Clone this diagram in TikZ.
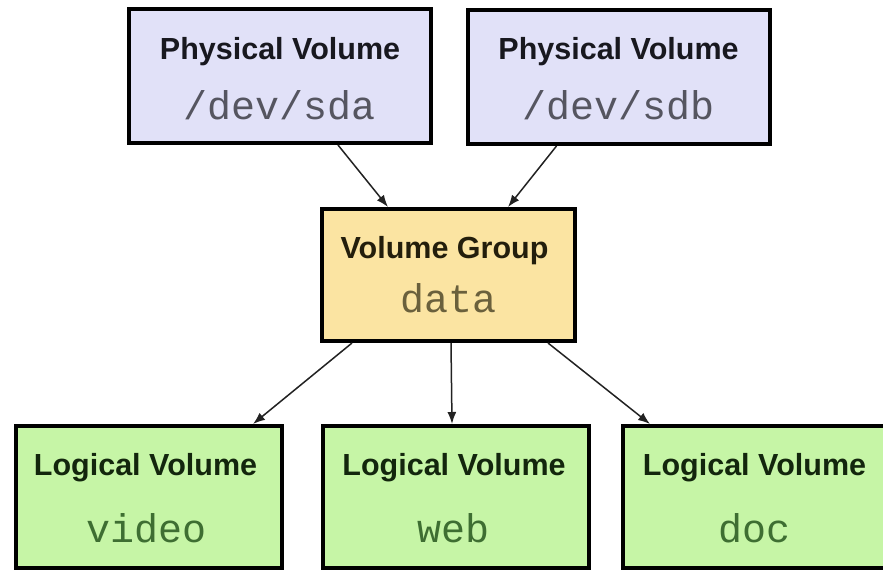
\documentclass[tikz,border=0pt]{standalone}
\usepackage{fontspec}
\setmainfont{Liberation Sans}
\newfontfamily\monofam{Liberation Mono}
\usetikzlibrary{arrows.meta}

\definecolor{pvfill}{HTML}{E1E1F8}
\definecolor{vgfill}{HTML}{FBE4A2}
\definecolor{lvfill}{HTML}{C6F5A6}
\definecolor{pvtext}{HTML}{555560}
\definecolor{vgtext}{HTML}{6A603C}
\definecolor{lvtext}{HTML}{3E6E32}
\definecolor{pvhead}{HTML}{18181F}
\definecolor{vghead}{HTML}{231E0C}
\definecolor{lvhead}{HTML}{13260D}
\definecolor{edgecol}{HTML}{222222}

\tikzset{
  box/.style={draw=black, line width=4pt, rectangle, inner sep=0pt},
  pvbox/.style={box, fill=pvfill, minimum width=302pt, minimum height=134pt},
  vgbox/.style={box, fill=vgfill, minimum width=253pt, minimum height=132pt},
  lvbox/.style={box, fill=lvfill, minimum width=266pt, minimum height=142pt},
  head/.style={anchor=base, inner sep=0pt, font=\fontsize{30.5}{33}\selectfont\bfseries},
  dev/.style={anchor=base, inner sep=0pt, font=\fontsize{40}{44}\selectfont\monofam},
  link/.style={draw=edgecol, line width=1.5pt, -{Latex[length=12pt,width=9pt]}}
}

\begin{document}
\begin{tikzpicture}[x=1pt, y=-1pt]
  \useasboundingbox (0,0) rectangle (883,571);

  % physical volumes
  \node[pvbox] (pv1) at (280,76) {};
  \node[pvbox] (pv2) at (618.5,77) {};
  % volume group
  \node[vgbox] (vg) at (448.5,275) {};
  % logical volumes
  \node[lvbox] (lv1) at (148.5,497) {};
  \node[lvbox] (lv2) at (456,497) {};
  \node[lvbox] (lv3) at (756,497) {};

  % box captions (shifts are in page direction: positive is upwards)
  \node[head, text=pvhead] (pv1h) at ([yshift=17pt]pv1.center) {Physical Volume};
  \node[dev, text=pvtext]  (pv1d) at ([yshift=-43pt]pv1.center) {/dev/sda};
  \node[head, text=pvhead] (pv2h) at ([yshift=18pt]pv2.center) {Physical Volume};
  \node[dev, text=pvtext]  (pv2d) at ([yshift=-42pt]pv2.center) {/dev/sdb};

  \node[head, text=vghead] (vgh) at ([xshift=-4pt,yshift=17pt]vg.center) {Volume Group};
  \node[dev, text=vgtext]  (vgd) at ([yshift=-37pt]vg.center) {data};

  \node[head, text=lvhead] (lv1h) at ([xshift=-3pt,yshift=22pt]lv1.center) {Logical Volume};
  \node[dev, text=lvtext]  (lv1d) at ([xshift=-2pt,yshift=-45pt]lv1.center) {video};
  \node[head, text=lvhead] (lv2h) at ([xshift=-2pt,yshift=22pt]lv2.center) {Logical Volume};
  \node[dev, text=lvtext]  (lv2d) at ([xshift=-3pt,yshift=-45pt]lv2.center) {web};
  \node[head, text=lvhead] (lv3h) at ([xshift=-1.5pt,yshift=22pt]lv3.center) {Logical Volume};
  \node[dev, text=lvtext]  (lv3d) at ([xshift=-1.5pt,yshift=-45pt]lv3.center) {doc};

  % connectors
  \draw[link] ([xshift=58pt]pv1.south) -- ([xshift=-60.5pt]vg.north);
  \draw[link] ([xshift=-62pt]pv2.south) -- ([xshift=59.5pt]vg.north);
  \draw[link] ([xshift=-96.5pt]vg.south) -- ([xshift=104.5pt]lv1.north);
  \draw[link] ([xshift=2.5pt]vg.south) -- ([xshift=-4pt]lv2.north);
  \draw[link] ([xshift=99.5pt]vg.south) -- ([xshift=-106pt]lv3.north);
\end{tikzpicture}
\end{document}
